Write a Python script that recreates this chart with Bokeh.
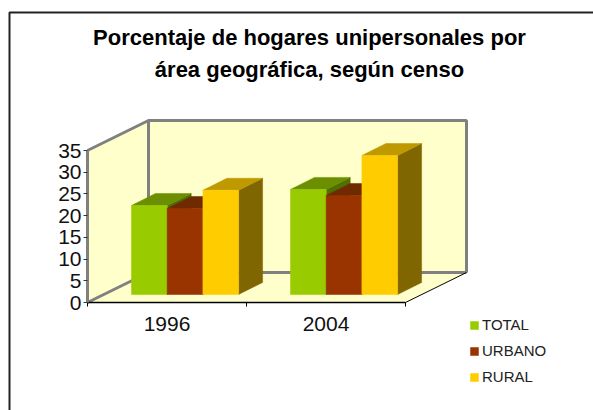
from bokeh.plotting import figure
from bokeh.models import LinearAxis, FixedTicker, Range1d, Legend, LegendItem, Label
from bokeh.embed import file_html
from bokeh.resources import INLINE

categories = ["1996", "2004"]
series_names = ["TOTAL", "URBANO", "RURAL"]
total = [20.5, 24.2]
urbano = [19.8, 22.8]
rural = [24.0, 32.0]
y_ticks = [0, 5, 10, 15, 20, 25, 30, 35]
front_colors = ["#99CC00", "#993300", "#FFCC00"]
top_colors = ["#6B8F00", "#702A00", "#BF9900"]
side_colors = ["#4F7000", "#5A1E00", "#806600"]
title_lines = ["Porcentaje de hogares unipersonales por", "área geográfica, según censo"]

W, H = 593, 410
PX_CAT = 159.0
PX_VAL = 152.0 / 35
X0_PX, Y0_PX = 87.0, 302.0   # figure pixels of the axis origin
YMAX = 35

p = figure(width=W, height=H, output_backend="svg", toolbar_location=None,
           x_axis_location=None, y_axis_location=None, min_border=0,
           x_range=Range1d(-X0_PX / PX_CAT, (W - X0_PX) / PX_CAT),
           y_range=Range1d(-(H - Y0_PX) / PX_VAL, Y0_PX / PX_VAL),
           background_fill_color="white", border_fill_color="white")
p.grid.visible = False
p.outline_line_color = None

WALL_DX, WALL_DY = 61.0 / PX_CAT, 30.0 / PX_VAL
BAR_DX, BAR_DY = 24.0 / PX_CAT, 12.0 / PX_VAL
OFF_DX, OFF_DY = 16.0 / PX_CAT, 8.0 / PX_VAL
BAR_W = 35.7 / PX_CAT
GAP = 28.0 / PX_CAT
XMAX = len(categories)
YELLOW = "#FFFFCC"
GRAY = "#808080"

# walls and floor
p.patch([0, WALL_DX, WALL_DX, 0], [0, WALL_DY, YMAX + WALL_DY, YMAX], color=YELLOW)
p.patch([WALL_DX, XMAX + WALL_DX, XMAX + WALL_DX, WALL_DX],
        [WALL_DY, WALL_DY, YMAX + WALL_DY, YMAX + WALL_DY], color=YELLOW)
p.patch([0, XMAX, XMAX + WALL_DX, WALL_DX], [0, 0, WALL_DY, WALL_DY], color=YELLOW)
p.line([WALL_DX, XMAX + WALL_DX], [WALL_DY, WALL_DY], line_color=GRAY, line_width=3)
p.line([WALL_DX, WALL_DX], [WALL_DY, YMAX + WALL_DY], line_color=GRAY, line_width=3)
p.line([0, WALL_DX, XMAX + WALL_DX, XMAX + WALL_DX],
       [YMAX, YMAX + WALL_DY, YMAX + WALL_DY, WALL_DY], line_color=GRAY, line_width=3)
p.line([0, WALL_DX], [0, WALL_DY], line_color=GRAY, line_width=3)
p.line([XMAX, XMAX + WALL_DX], [0, WALL_DY], line_color="black", line_width=1)

# bars
renderers = []
for s, vals in enumerate([total, urbano, rural]):
    r_front = None
    for c, v in enumerate(vals):
        x0 = c + GAP + OFF_DX + s * BAR_W
        x1 = x0 + BAR_W
        b = OFF_DY
        t = OFF_DY + v
        p.patch([x1, x1 + BAR_DX, x1 + BAR_DX, x1], [b, b + BAR_DY, t + BAR_DY, t],
                color=side_colors[s], line_width=0.5)
        p.patch([x0, x0 + BAR_DX, x1 + BAR_DX, x1], [t, t + BAR_DY, t + BAR_DY, t],
                color=top_colors[s], line_width=0.5)
        r_front = p.quad(left=x0, right=x1, bottom=b, top=t, color=front_colors[s], line_width=0.5)
    renderers.append(r_front)

# axes
yax = LinearAxis(fixed_location=0, ticker=FixedTicker(ticks=y_ticks), bounds=(0, YMAX))
yax.axis_line_color = GRAY
yax.axis_line_width = 3
yax.major_tick_line_color = "#333333"
yax.major_tick_in = 0
yax.major_tick_out = 4
yax.minor_tick_line_color = None
yax.major_label_standoff = 2
yax.major_label_text_font = "Liberation Sans"
yax.major_label_text_font_size = "21px"
yax.major_label_text_color = "#111111"
p.add_layout(yax, "left")

xax = LinearAxis(fixed_location=0, ticker=FixedTicker(ticks=[0, 1, 2]), bounds=(0, XMAX))
xax.axis_line_color = "black"
xax.axis_line_width = 1.5
xax.major_tick_line_color = "black"
xax.major_tick_in = 0
xax.major_tick_out = 4
xax.minor_tick_line_color = None
xax.major_label_text_font_size = "0px"
xax.major_label_text_color = None
p.add_layout(xax, "below")

lab = LinearAxis(fixed_location=0, ticker=FixedTicker(ticks=[0.5, 1.5]),
                 major_label_overrides={0.5: categories[0], 1.5: categories[1]})
lab.axis_line_color = None
lab.major_tick_line_color = None
lab.minor_tick_line_color = None
lab.major_label_standoff = 8
lab.major_label_text_font = "Liberation Sans"
lab.major_label_text_font_size = "21px"
lab.major_label_text_color = "#111111"
p.add_layout(lab, "below")

# chart border: left and top only
bx = (1 - X0_PX + 8) / PX_CAT
by = (Y0_PX - 12) / PX_VAL
p.line([bx, bx, W / PX_CAT], [-H / PX_VAL, by, by], line_color="#222222", line_width=2)

# title
for i, line in enumerate(title_lines):
    p.add_layout(Label(x=309, y=H - 37 - i * 31.5, x_units="screen", y_units="screen", text=line,
                       text_align="center", text_baseline="middle",
                       text_font="Liberation Sans", text_font_style="bold",
                       text_font_size="22px", text_color="black"))

legend = Legend(items=[LegendItem(label=n, renderers=[r]) for n, r in zip(series_names, renderers)],
                location=(469, 25), orientation="vertical", padding=0, margin=0, spacing=9,
                glyph_width=10, glyph_height=10, label_standoff=3, label_height=10, label_width=40,
                label_text_font="Liberation Sans", label_text_font_size="15px",
                label_text_color="#222222", border_line_color=None, background_fill_alpha=0)
p.add_layout(legend, "center")

open("out.html", "w").write(file_html(p, INLINE))
